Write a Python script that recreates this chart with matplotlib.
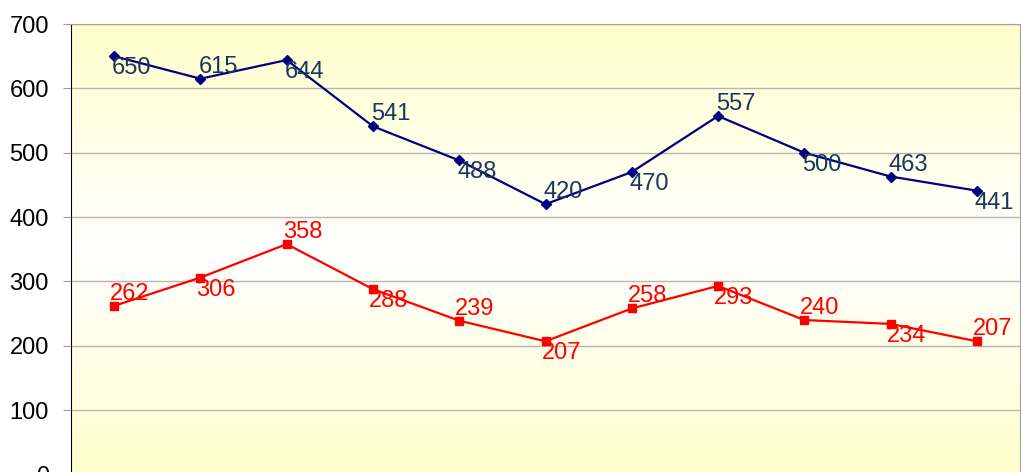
import numpy as np
import matplotlib
matplotlib.use("Agg")
from matplotlib import pyplot as plt
from matplotlib.colors import LinearSegmentedColormap

plt.rcParams['font.family'] = ['Liberation Sans', 'DejaVu Sans']

# データ
blue_vals = [650, 615, 644, 541, 488, 420, 470, 557, 500, 463, 441]
red_vals = [262, 306, 358, 288, 239, 207, 258, 293, 240, 234, 207]
# ラベル位置 (+1 上, -1 下)
blue_pos = [-1, 1, -1, 1, -1, 1, -1, 1, -1, 1, -1]
red_pos = [1, -1, 1, -1, 1, -1, 1, -1, 1, -1, 1]
y_ticks = [0, 100, 200, 300, 400, 500, 600, 700]

x = np.arange(len(blue_vals)) + 0.5

fig = plt.figure(figsize=(10.21, 4.72), dpi=100)
ax = fig.add_axes([71 / 1021, -2.5 / 472, 949 / 1021, 450.5 / 472])

# 背景グラデーション
cmap = LinearSegmentedColormap.from_list("bg", ["#FFFFCC", "#FFFFFF", "#FFFFCC"])
grad = np.linspace(0, 1, 256).reshape(-1, 1)
ax.imshow(grad, aspect="auto", cmap=cmap, extent=[0, 11, 0, 700], zorder=0)

ax.set_xlim(0, 11)
ax.set_ylim(0, 700)
ax.set_yticks(y_ticks)
ax.set_xticks([])
ax.grid(axis="y", color="#B4B4B4", linewidth=1, zorder=1)

ax.plot(x, blue_vals, color="#000080", marker="D", markersize=5, linewidth=1.6, zorder=3)
ax.plot(x, red_vals, color="#FF0000", marker="s", markersize=6, linewidth=1.6, zorder=3)

for xi, v, p in zip(x, blue_vals, blue_pos):
    ax.annotate(str(v), (xi, v), xytext=(-2, 12 * p), textcoords="offset pixels",
                ha="left", va="center", fontsize=17, color="#17375E", zorder=4)
for xi, v, p in zip(x, red_vals, red_pos):
    ax.annotate(str(v), (xi, v), xytext=(-4, 12 * p), textcoords="offset pixels",
                ha="left", va="center", fontsize=17, color="#FF0000", zorder=4)

for s in ["top", "right"]:
    ax.spines[s].set_color("#A0A0A0")
ax.spines["left"].set_color("black")
ax.spines["bottom"].set_visible(False)
ax.tick_params(axis="y", labelsize=17, length=6, color="#A0A0A0", pad=10)

fig.savefig("out.png", dpi=100)
